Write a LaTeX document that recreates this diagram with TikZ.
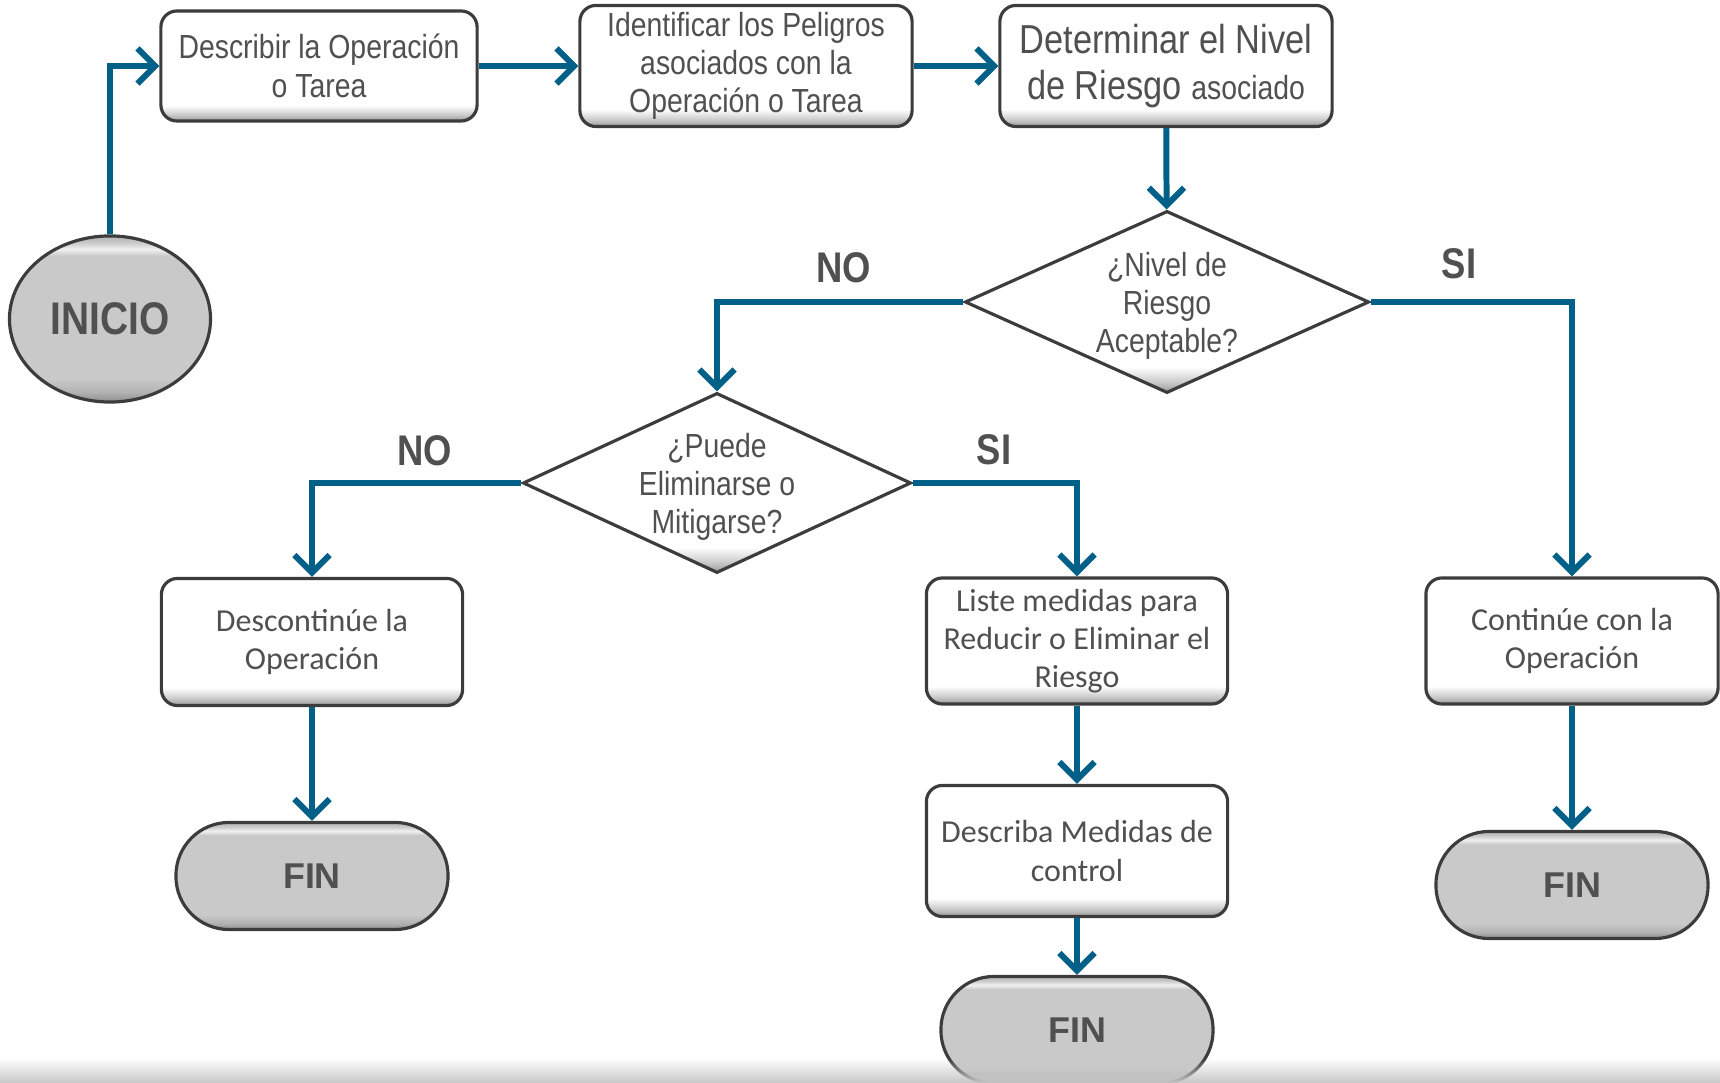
\documentclass[tikz,border=0pt]{standalone}
\usepackage{fontspec}
\setmainfont{Liberation Sans}
\newfontfamily\condfont[FakeStretch=0.85]{Liberation Sans}
\newfontfamily\calfont{Carlito}
\usetikzlibrary{shapes.geometric,arrows.meta,fadings}
\definecolor{azulflecha}{RGB}{0,96,135}
\definecolor{textogris}{RGB}{80,80,80}
\definecolor{bordegris}{RGB}{60,60,60}
\pgfdeclareverticalshading{relieve}{100bp}{color(0bp)=(black!40); color(25bp)=(black!40); color(28bp)=(black!20); color(32bp)=(white); color(100bp)=(white)}
\pgfdeclareverticalshading{relievegris}{100bp}{color(0bp)=(black!45); color(25bp)=(black!45); color(28bp)=(black!30); color(32bp)=(black!21); color(69bp)=(black!21); color(71bp)=(black!6); color(73bp)=(black!21); color(75bp)=(black!30); color(100bp)=(black!30)}

\begin{document}
\begin{tikzpicture}[x=0.01cm, y=-0.01cm]
\tikzset{caja/.style={draw=bordegris, line width=0.9pt, rounded corners=0.16cm, shade, shading=relieve, align=center, text=textogris, inner sep=0pt},
  cajac/.style={caja, font=\condfont\fontsize{9.5}{10.9}\selectfont},
  cajal/.style={caja, font=\calfont\fontsize{9.1}{10.9}\selectfont},
  decision/.style={diamond, draw=bordegris, line width=0.9pt, shade, shading=relieve, inner sep=0pt},
  textodec/.style={align=center, text=textogris, inner sep=0pt, yshift=-1pt, font=\condfont\fontsize{9.5}{10.8}\selectfont},
  fin/.style={draw=bordegris, line width=0.9pt, rounded corners=0.53cm, shade, shading=relievegris, text=textogris, font=\bfseries\fontsize{10.2}{12}\selectfont, minimum width=2.72cm, minimum height=1.07cm},
  inicio/.style={ellipse, draw=bordegris, line width=0.9pt, shade, shading=relievegris, text=textogris, font=\condfont\bfseries\fontsize{13}{15}\selectfont, minimum width=1.94cm, minimum height=1.66cm},
  etiq/.style={text=textogris, font=\condfont\bfseries\fontsize{12.2}{14}\selectfont},
  flecha/.style={draw=azulflecha, line width=1.7pt, -{Straight Barb[length=5pt,width=10pt]}}}
\clip (0,0) rectangle (1720,1083);
\node[inicio] (ini) at (110,319) {INICIO};
\node[cajac, minimum width=3.16cm, minimum height=1.10cm] (describir) at (319,66) {Describir la Operación\\o Tarea};
\node[cajac, minimum width=3.32cm, minimum height=1.21cm] (identificar) at (746,66) {Identificar los Peligros\\asociados con la\\Operación o Tarea};
\node[caja, minimum width=3.32cm, minimum height=1.21cm, font=\condfont\fontsize{11.5}{13}\selectfont] (determinar) at (1166,66) {Determinar el Nivel\\de Riesgo {\fontsize{9.5}{11}\selectfont asociado}};
\node[decision, minimum width=4.04cm, minimum height=1.82cm, label={[textodec]center:{¿Nivel de\\Riesgo\\Aceptable?}}] (nivel) at (1167,302) {};
\node[decision, minimum width=3.88cm, minimum height=1.80cm, label={[textodec]center:{¿Puede\\Eliminarse o\\Mitigarse?}}] (puede) at (717,483) {};
\node[cajal, minimum width=3.01cm, minimum height=1.27cm] (descontinue) at (312,642) {Descontinúe la\\Operación};
\node[cajal, minimum width=3.01cm, minimum height=1.26cm] (liste) at (1077,641) {Liste medidas para\\Reducir o Eliminar el\\Riesgo};
\node[cajal, minimum width=3.01cm, minimum height=1.31cm] (describa) at (1077,851) {Describa Medidas de\\control};
\node[cajal, minimum width=2.92cm, minimum height=1.26cm] (continue) at (1572,641) {Continúe con la\\Operación};
\node[fin] (fin1) at (312,876) {FIN};
\node[fin] (fin2) at (1077,1030) {FIN};
\node[fin] (fin3) at (1572,885) {FIN};
\node[etiq] (no1) at (844,268) {NO};
\node[etiq] (si1) at (1459,264) {SI};
\node[etiq] (no2) at (425,451) {NO};
\node[etiq] (si2) at (994,450) {SI};
\draw[flecha] (ini.north) |- (describir.west);
\draw[flecha] (describir) -- (identificar);
\draw[flecha] (identificar) -- (determinar);
\draw[flecha] (determinar) -- (nivel);
\draw[flecha] (nivel.west) -| (puede.north);
\draw[flecha] (nivel.east) -| (continue.north);
\draw[flecha] (puede.west) -| (descontinue.north);
\draw[flecha] (puede.east) -| (liste.north);
\draw[flecha] (descontinue) -- (fin1);
\draw[flecha] (liste) -- (describa);
\draw[flecha] (describa) -- (fin2);
\draw[flecha] (continue) -- (fin3);
\fill[black!22, path fading=north] (0,1058) rectangle (1720,1083);
\end{tikzpicture}
\end{document}
